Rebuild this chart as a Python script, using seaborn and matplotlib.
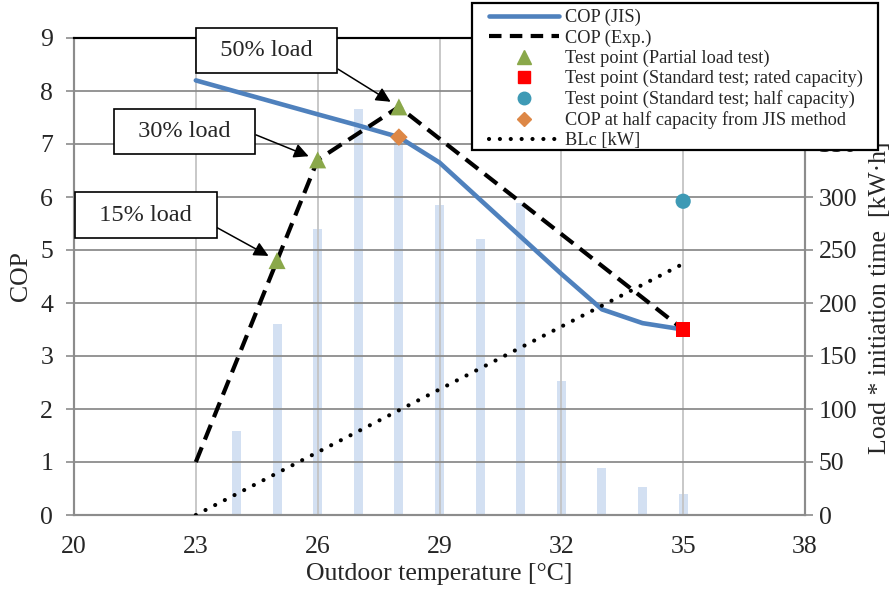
import numpy as np
import pandas as pd
import matplotlib
matplotlib.use("Agg")
import matplotlib.pyplot as plt
import seaborn as sns
from matplotlib.lines import Line2D
from matplotlib.patches import Rectangle

# ---- data ----
temp_jis = [23, 26, 27, 28, 29, 30, 31, 32, 33, 34, 35]
cop_jis = [8.2, 7.56, 7.35, 7.13, 6.65, 5.95, 5.25, 4.55, 3.88, 3.62, 3.5]
temp_exp = [23, 25, 26, 28, 35]
cop_exp = [1.0, 4.8, 6.7, 7.7, 3.5]
partial_t = [25, 26, 28]
partial_cop = [4.8, 6.7, 7.7]
rated_t = [35]
rated_cop = [3.5]
half_t = [35]
half_cop = [5.92]
jis_half_t = [28]
jis_half_cop = [7.13]
blc_t = [23, 35]
blc_kw = [0.0, 4.74]
bar_t = [24, 25, 26, 27, 28, 29, 30, 31, 32, 33, 34, 35]
bar_load = [79, 180, 270, 383, 357, 292, 260, 294, 126, 44, 26, 20]
x_ticks = [20, 23, 26, 29, 32, 35, 38]
right_ticks = [0, 50, 100, 150, 200, 250, 300, 350, 400, 450]
right_tick_labels = ["0", "50", "100", "150", "200", "250", "300", "350", "", ""]
annot_labels = ["15% load", "30% load", "50% load"]

sns.set_style("white")
plt.rcParams["font.family"] = ["Liberation Serif", "DejaVu Serif"]

W, H = 893, 589
fig = plt.figure(figsize=(W/100, H/100), dpi=100)
ax = fig.add_axes([74/W, 1-515/H, (805-74)/W, (515-38)/H])
ax2 = ax.twinx()

FS = 18.5

# bars on secondary axis
bars_df = pd.DataFrame({"t": bar_t, "load": bar_load})
sns.barplot(data=bars_df, x="t", y="load", native_scale=True, width=0.22,
            color="#d3e0f2", saturation=1, ax=ax2, edgecolor="none")
ax2.set_ylim(0, 450)
ax2.set_yticks(right_ticks)
ax2.set_yticklabels(right_tick_labels)
ax2.set_ylabel("Load * initiation time  [kW·h]", fontsize=FS)
ax2.yaxis.set_label_coords(1.087, 0.455)
ax2.set_xlabel("")

ax.set_zorder(ax2.get_zorder() + 1)
ax.patch.set_visible(False)

blue = "#4f81bd"
sns.lineplot(x=temp_jis, y=cop_jis, ax=ax, color=blue, lw=3.3, zorder=4)
sns.lineplot(x=temp_exp, y=cop_exp, ax=ax, color="black", lw=3.0, zorder=5)
ax.lines[-1].set_linestyle((0, (3.8, 2.0)))
sns.lineplot(x=blc_t, y=blc_kw, ax=ax, color="black", lw=3.0, zorder=5)
ax.lines[-1].set_linestyle((0, (0.01, 2.6)))
ax.lines[-1].set_dash_capstyle("round")

sns.scatterplot(x=partial_t, y=partial_cop, ax=ax, marker="^", s=150, color="#8aa84a",
                edgecolor="none", zorder=6)
sns.scatterplot(x=rated_t, y=rated_cop, ax=ax, marker="s", s=110, color="#ff0000",
                edgecolor="none", zorder=6)
sns.scatterplot(x=half_t, y=half_cop, ax=ax, marker="o", s=120, color="#3e9ab5",
                edgecolor="none", zorder=6)
sns.scatterplot(x=jis_half_t, y=jis_half_cop, ax=ax, marker="D", s=80, color="#dd8746",
                edgecolor="none", zorder=6)

ax.set_xlim(20, 38)
ax.set_ylim(0, 9)
ax.set_xticks(x_ticks)
ax.set_yticks(range(0, 10))
ax.grid(axis="y", color="#8c8c8c", lw=1.3)
ax.grid(axis="x", color="#c4c4c4", lw=1.3)
ax.set_axisbelow(True)
ax.set_xlabel("Outdoor temperature [°C]", fontsize=FS, labelpad=4)
ax.set_ylabel("COP", fontsize=FS)
ax.yaxis.set_label_coords(-0.058, 0.5)

for a in (ax, ax2):
    a.tick_params(labelsize=FS, direction="out", length=6, width=1.2, color="#8c8c8c")
    for s in a.spines.values():
        s.set_color("#8c8c8c")
        s.set_linewidth(1.5)
    a.spines["top"].set_color("black")
    a.spines["top"].set_linewidth(1.5)
ax.tick_params(axis="y", pad=9)
ax.tick_params(axis="x", pad=9)
ax2.tick_params(axis="y", pad=4)

# annotations
annot_text_pos = [(21.77, 5.66), (22.73, 7.23), (24.75, 8.76)]
annot_xy = [(25, 4.8), (26, 6.7), (28, 7.7)]
annot_rel = [(1.0, 0.23), (1.0, 0.6), (1.0, 0.0)]
for lab, tp, xy, rp in zip(annot_labels, annot_text_pos, annot_xy, annot_rel):
    ax.annotate("  " + lab + "  ", xy=xy, xytext=tp, textcoords="data",
                ha="center", va="center", fontsize=17.5, zorder=8,
                bbox=dict(boxstyle="square,pad=0.5", fc="white", ec="black", lw=1.2),
                arrowprops=dict(arrowstyle="-|>", color="black", lw=1.1,
                                mutation_scale=22, relpos=rp, shrinkA=0, shrinkB=7),
                annotation_clip=False)

# legend box (drawn as a separate frame for exact padding)
frame = Rectangle((472/W, 1-150/H), (878-472)/W, (150-3)/H, transform=fig.transFigure,
                  facecolor="white", edgecolor="black", lw=1.6, zorder=19)
fig.add_artist(frame)

handles = [
    Line2D([], [], color=blue, lw=3.3),
    Line2D([], [], color="black", lw=3.0, ls=(0, (3.0, 2.0))),
    Line2D([], [], color="#8aa84a", marker="^", ls="none", ms=10),
    Line2D([], [], color="#ff0000", marker="s", ls="none", ms=9),
    Line2D([], [], color="#3e9ab5", marker="o", ls="none", ms=9),
    Line2D([], [], color="#dd8746", marker="D", ls="none", ms=7),
    Line2D([], [], color="black", lw=3.0, ls=(0, (0.01, 2.6)), dash_capstyle="round"),
]
labels = ["COP (JIS)", "COP (Exp.)", "Test point (Partial load test)",
          "Test point (Standard test; rated capacity)",
          "Test point (Standard test; half capacity)",
          "COP at half capacity from JIS method", "BLc [kW]"]
leg = fig.legend(handles, labels, loc="upper left", bbox_to_anchor=(489/W, 1-9/H),
                 fontsize=13.2, frameon=False, handlelength=3.8, labelspacing=0.165,
                 borderpad=0, handletextpad=0.33, borderaxespad=0)
leg.set_zorder(20)

fig.savefig("out.png", dpi=100)
